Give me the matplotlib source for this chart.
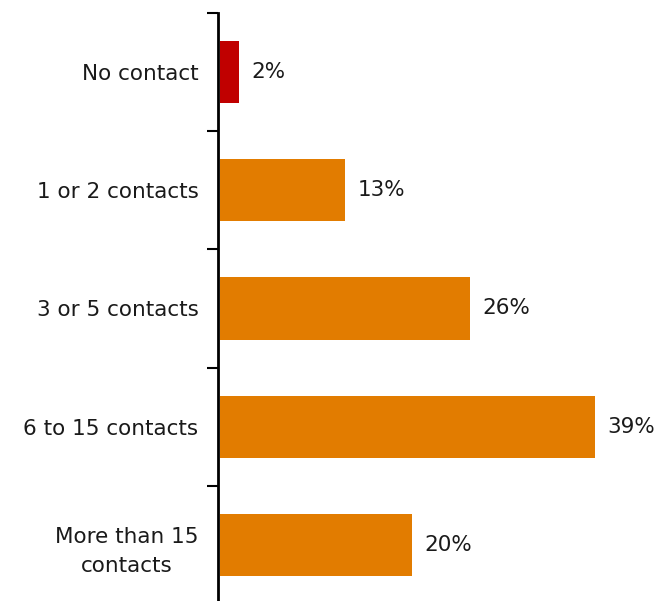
import matplotlib
matplotlib.use("Agg")
import matplotlib.pyplot as plt
import numpy as np

categories = ["No contact", "1 or 2 contacts", "3 or 5 contacts",
              "6 to 15 contacts", "More than 15\ncontacts"]
values = [2, 13, 26, 39, 20]
labels = ["2%", "13%", "26%", "39%", "20%"]
colors = ["#C00000", "#E27C00", "#E27C00", "#E27C00", "#E27C00"]

plt.rcParams["font.family"] = ["DejaVu Sans"]
text_color = "#1a1a1a"

fig = plt.figure(figsize=(6.6, 6.01), dpi=100)
ax = fig.add_axes([218 / 660, -3 / 601, 442 / 660, 591 / 601])

y = np.arange(len(categories))
ax.barh(y, values, height=0.525, color=colors, left=0.2)

for yi, v, lab in zip(y, values, labels):
    ax.annotate(lab, (v + 0.2, yi), xytext=(9, 0), textcoords="offset points",
                va="center", ha="left", fontsize=15.5, color=text_color)

ax.set_xlim(0, 46)
ax.set_ylim(len(categories) - 0.5, -0.5)

ax.set_yticks(y)
ax.set_yticklabels(categories, fontsize=15.5, color=text_color,
                   multialignment="center", linespacing=1.55)
ax.tick_params(axis="y", which="major", length=0, pad=14)
ax.set_yticks(np.arange(-0.5, len(categories), 1.0), minor=True)
ax.tick_params(axis="y", which="minor", length=8, width=1.5, direction="out")

ax.set_xticks([])
for side in ["top", "right", "bottom"]:
    ax.spines[side].set_visible(False)
ax.spines["left"].set_linewidth(2)
ax.spines["left"].set_color("black")

fig.savefig("out.png", dpi=100)
